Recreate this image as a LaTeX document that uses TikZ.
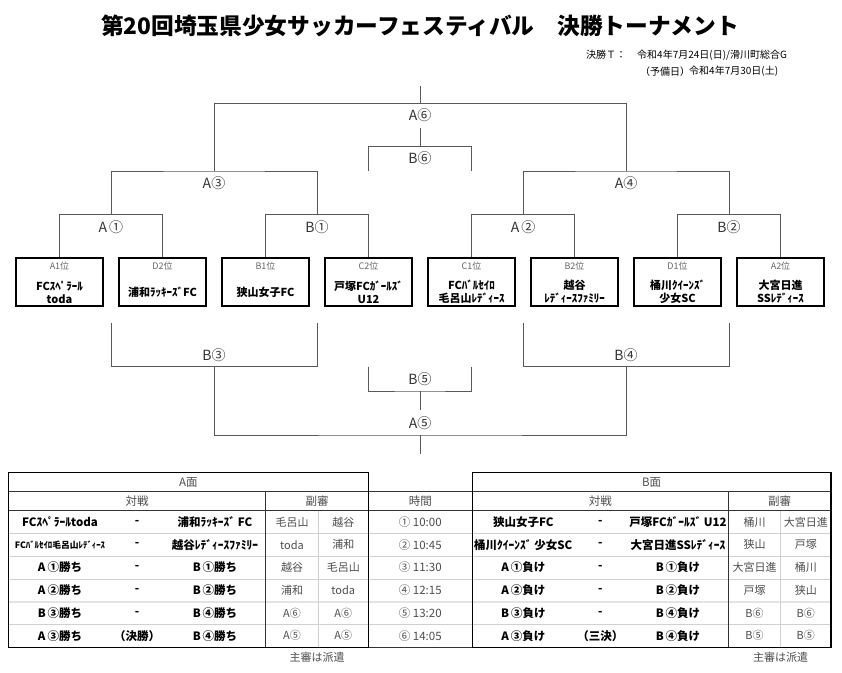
\documentclass[tikz,border=0pt]{standalone}
\usepackage{fontspec}
\setmainfont{Noto Sans CJK JP}
\definecolor{brkgray}{HTML}{595959}
\definecolor{lblgray}{HTML}{333333}
\definecolor{txtgray}{HTML}{4D4D4D}
\definecolor{rowgray}{HTML}{D0D0D0}
\definecolor{rowgraytwo}{HTML}{E4E4E4}
\definecolor{rankgray}{HTML}{666666}
\begin{document}
\begin{tikzpicture}[x=1pt,y=-1pt,
  brk/.style={draw=brkgray,line width=0.9pt},
  blabel/.style={font=\fontsize{14}{14}\selectfont,text=lblgray,inner sep=0pt},
  teambox/.style={draw=black,line width=1.8pt,minimum width=87pt,minimum height=48pt,inner sep=0pt},
  rank/.style={font=\fontsize{9}{9}\selectfont,text=rankgray,inner sep=0pt},
  tname/.style={font=\bfseries\fontsize{11}{13}\selectfont,align=center,inner sep=0pt},
  hdr/.style={font=\fontsize{11.5}{11.5}\selectfont,text=txtgray,inner sep=0pt},
  cell/.style={font=\bfseries\fontsize{11.5}{11.5}\selectfont,inner sep=0pt},
  refc/.style={font=\fontsize{11}{11}\selectfont,text=txtgray,inner sep=0pt},
  darkline/.style={draw=black!80,line width=1pt},
  lightline/.style={draw=rowgray,line width=0.7pt},
  subtxt/.style={font=\fontsize{10}{10}\selectfont,inner sep=0pt,anchor=west},
]
\fill[white] (0,0) rectangle (842,672);
\useasboundingbox (0,0) rectangle (842,672);

% title
\node[inner sep=0pt] (title) at (420,26) {\fontsize{22.7}{22.7}\selectfont\bfseries 第20回埼玉県少女サッカーフェスティバル　決勝トーナメント};
\node[subtxt] (sub1) at (586,55) {決勝Ｔ：};
\node[subtxt] (sub2) at (637,55) {令和4年7月24日(日)/滑川町総合G};
\node[subtxt] (sub3) at (640,71.7) {（予備日）};
\node[subtxt] (sub4) at (689,71.7) {令和4年7月30日(土)};

% team boxes
\foreach \n/\r/\t [count=\i from 0] in {
  A1/A1位/{FCｽﾍﾟﾗｰﾙ\\toda},
  D2/D2位/{浦和ﾗｯｷｰｽﾞFC},
  B1/B1位/{狭山女子FC},
  C2/C2位/{戸塚FCｶﾞｰﾙｽﾞ\\U12},
  C1/C1位/{FCﾊﾞﾙｾｲﾛ\\毛呂山ﾚﾃﾞｨｰｽ},
  B2/B2位/{越谷\\ﾚﾃﾞｨｰｽﾌｧﾐﾘｰ},
  D1/D1位/{桶川ｸｲｰﾝｽﾞ\\少女SC},
  A2/A2位/{大宮日進\\SSﾚﾃﾞｨｰｽ}}
{
  \node[teambox] (b\n) at ({59.5+103*\i},282) {};
  \node[rank] (r\n) at ({59.5+103*\i},266.5) {\r};
  \node[tname] (t\n) at ({59.5+103*\i},292) {\t};
}

% top bracket coordinates
\coordinate (top) at (420,86);
\coordinate (f6) at (420,103.3);
\coordinate (g6) at (420,128);
\coordinate (h6) at (420,146.7);
\coordinate (b6L) at (368.5,171);
\coordinate (b6R) at (471.5,171);
\coordinate (m3) at (214,171);
\coordinate (m4) at (626,171);
\coordinate (m1) at (111,214.7);
\coordinate (mB1) at (317,214.7);
\coordinate (m2) at (523,214.7);
\coordinate (mB2) at (729,214.7);

\draw[brk] (top) -- (f6);
\draw[brk] (m3) |- (f6) -| (m4);
\draw[brk] (g6) -- (h6);
\draw[brk] (b6L) |- (h6) -| (b6R);
\draw[brk] (m1) |- (m3) -| (mB1);
\draw[brk] (m2) |- (m4) -| (mB2);
\draw[brk] (bA1.north) |- (m1) -| (bD2.north);
\draw[brk] (bB1.north) |- (mB1) -| (bC2.north);
\draw[brk] (bC1.north) |- (m2) -| (bB2.north);
\draw[brk] (bD1.north) |- (mB2) -| (bA2.north);

\node[blabel] (lA6) at (420,115) {A⑥};
\node[blabel] (lB6) at (420,158.5) {B⑥};
\node[blabel] (lA3) at (214,183) {A③};
\node[blabel] (lA4) at (626,183) {A④};
\node[blabel] (lA1) at (111,227) {A\hspace{2pt}①};
\node[blabel] (lB1) at (317,227) {B①};
\node[blabel] (lA2) at (523,227) {A\hspace{2pt}②};
\node[blabel] (lB2) at (729,227) {B②};

% bottom bracket
\coordinate (q1) at (111,323.3);
\coordinate (q2) at (317,323.3);
\coordinate (q3) at (523,323.3);
\coordinate (q4) at (729,323.3);
\coordinate (n3) at (214,366.7);
\coordinate (n4) at (626,366.7);
\coordinate (r1) at (368.5,366.7);
\coordinate (r2) at (471.5,366.7);
\coordinate (n5) at (420,391);
\coordinate (p5) at (420,410);
\coordinate (a5) at (420,435);
\coordinate (bot) at (420,454);

\draw[brk] (q1) |- (n3) -| (q2);
\draw[brk] (q3) |- (n4) -| (q4);
\draw[brk] (r1) |- (n5) -| (r2);
\draw[brk] (n5) -- (p5);
\draw[brk] (n3) |- (a5) -| (n4);
\draw[brk] (a5) -- (bot);

\node[blabel] (lB3) at (214,355) {B③};
\node[blabel] (lB4) at (626,355) {B④};
\node[blabel] (lB5) at (420,379) {B⑤};
\node[blabel] (lA5) at (420,423) {A⑤};

% table lines
\foreach \yy in {533.3,556,579,624.3} \draw[lightline] (8.3,\yy) -- (831,\yy);
\draw[draw=rowgraytwo,line width=2pt] (8.3,601.7) -- (831,601.7);
\draw[lightline] (318.3,510.7) -- (318.3,647.3);
\draw[lightline] (780.7,510.7) -- (780.7,647.3);
\draw[darkline] (8.3,491.7) -- (831,491.7);
\draw[darkline] (8.3,510.7) -- (831,510.7);
\draw[darkline] (8.3,647.3) -- (831,647.3);
\draw[darkline] (265.7,491.7) -- (265.7,647.3);
\draw[darkline] (728.3,491.7) -- (728.3,647.3);
\draw[draw=black,line width=1.1pt] (8.3,472.3) rectangle (368.3,647.3);
\draw[draw=black,line width=1.1pt] (472.3,472.3) rectangle (831,647.3);

% headers
\node[hdr] (hA) at (188.3,482) {A面};
\node[hdr] (hB) at (651.6,482) {B面};
\node[hdr] (hAt) at (137,501.2) {対戦};
\node[hdr] (hAr) at (317,501.2) {副審};
\node[hdr] (hT) at (420.3,501.2) {時間};
\node[hdr] (hBt) at (600.3,501.2) {対戦};
\node[hdr] (hBr) at (779.6,501.2) {副審};

% rows
\foreach \yy/\al/\am/\ar/\pa/\pb/\tm/\bl/\bm/\br/\qa/\qb [count=\i] in {
  522/{FCｽﾍﾟﾗｰﾙtoda}/-/{浦和ﾗｯｷｰｽﾞ FC}/毛呂山/越谷/{① 10:00}/{狭山女子FC}/-/{戸塚FCｶﾞｰﾙｽﾞ U12}/桶川/大宮日進,
  544.7/{\fontsize{8.8}{8.8}\selectfont FCﾊﾞﾙｾｲﾛ毛呂山ﾚﾃﾞｨｰｽ}/-/{越谷ﾚﾃﾞｨｰｽﾌｧﾐﾘｰ}/toda/浦和/{② 10:45}/{桶川ｸｲｰﾝｽﾞ 少女SC}/-/{大宮日進SSﾚﾃﾞｨｰｽ}/狭山/戸塚,
  567.5/{A\hspace{2pt}①勝ち}/-/{B\hspace{2pt}①勝ち}/越谷/毛呂山/{③ 11:30}/{A\hspace{2pt}①負け}/-/{B\hspace{2pt}①負け}/大宮日進/桶川,
  590.3/{A\hspace{2pt}②勝ち}/-/{B\hspace{2pt}②勝ち}/浦和/toda/{④ 12:15}/{A\hspace{2pt}②負け}/-/{B\hspace{2pt}②負け}/戸塚/狭山,
  613/{B\hspace{2pt}③勝ち}/-/{B\hspace{2pt}④勝ち}/A⑥/A⑥/{⑤ 13:20}/{B\hspace{2pt}③負け}/-/{B\hspace{2pt}④負け}/B⑥/B⑥,
  635.8/{A\hspace{2pt}③勝ち}/（決勝）/{B\hspace{2pt}④勝ち}/A⑤/A⑤/{⑥ 14:05}/{A\hspace{2pt}③負け}/（三決）/{B\hspace{2pt}④負け}/B⑤/B⑤}
{
  \node[cell] (al\i) at (60,\yy) {\al};
  \node[cell] (am\i) at (137,\yy) {\am};
  \node[cell] (ar\i) at (215,\yy) {\ar};
  \node[refc] (pa\i) at (292,\yy) {\pa};
  \node[refc] (pb\i) at (343.3,\yy) {\pb};
  \node[hdr] (tm\i) at (420.3,\yy) {\tm};
  \node[cell] (bl\i) at (523.3,\yy) {\bl};
  \node[cell] (bm\i) at (600.3,\yy) {\bm};
  \node[cell] (br\i) at (678,\yy) {\br};
  \node[refc] (qa\i) at (754.5,\yy) {\qa};
  \node[refc] (qb\i) at (805.8,\yy) {\qb};
}

\node[refc] (noteA) at (317,657.5) {主審は派遣};
\node[refc] (noteB) at (780.5,657.5) {主審は派遣};
\end{tikzpicture}
\end{document}
